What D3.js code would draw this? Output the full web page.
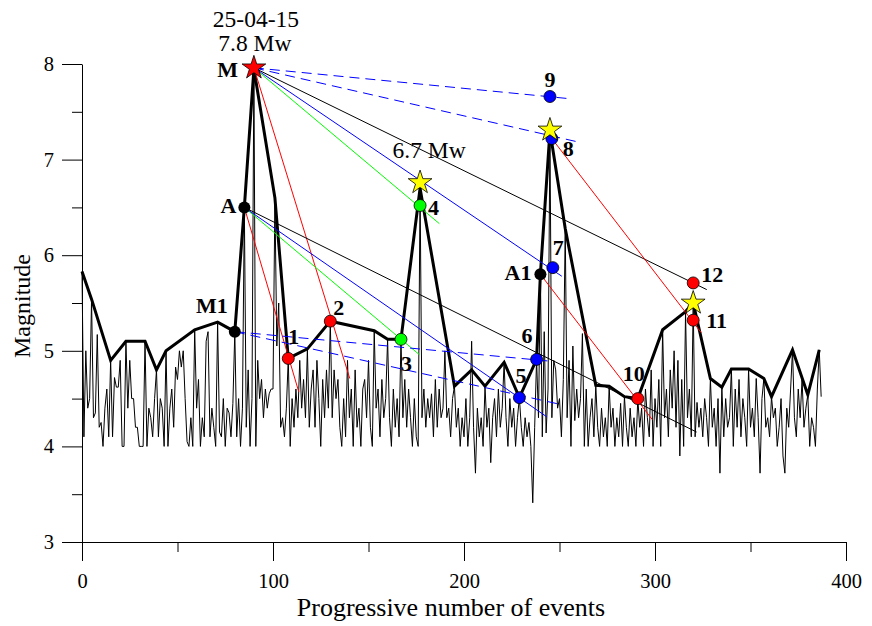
<!DOCTYPE html>
<html>
<head>
<meta charset="utf-8">
<script src="https://d3js.org/d3.v7.min.js"></script>
<style>
  body { margin: 0; background: #fff; }
  svg { display: block; font-family: "Liberation Serif", "Times New Roman", serif; }
</style>
</head>
<body>
<div id="chart"></div>
<script>
// magnitude of every event, index = progressive number
const magnitudes = [
  5.83, 4.1, 5.0, 4.4, 4.5, 5.54, 4.3, 4.35, 5.17, 4.2,
  4.25, 4.0, 4.4, 4.6, 4.1, 4.9, 4.1, 4.72, 4.62, 4.62,
  4.9, 4.0, 4.0, 5.1, 4.4, 4.9, 4.5, 4.5, 4.2, 4.2,
  4.0, 4.0, 4.0, 5.1, 4.0, 4.4, 4.3, 4.1, 4.5, 4.8,
  4.1, 4.5, 4.4, 4.0, 5.0, 4.0, 4.4, 4.6, 4.2, 4.83,
  4.7, 5.0, 4.83, 5.0, 4.5, 4.05, 4.0, 4.3, 4.0, 5.22,
  4.4, 4.7, 4.0, 4.3, 4.1, 5.1, 5.2, 4.1, 4.4, 4.2,
  4.0, 5.3, 4.15, 4.1, 4.5, 4.0, 4.4, 4.35, 4.1, 4.45,
  5.2, 4.1, 4.5, 4.0, 4.4, 6.5, 4.2, 4.8, 4.0, 4.5,
  7.95, 4.0, 4.9, 4.5, 4.7, 4.3, 4.6, 4.4, 4.55, 4.6,
  4.6, 6.6, 5.05, 5.5, 4.2, 4.3, 4.1, 4.4, 4.92, 4.0,
  4.5, 4.2, 4.6, 4.3, 4.9, 4.4, 4.7, 4.3, 5.02, 4.2,
  4.6, 4.8, 4.2, 4.9, 4.5, 4.0, 4.7, 4.3, 4.8, 4.4,
  5.31, 4.3, 4.8, 4.5, 4.7, 4.2, 4.0, 4.5, 4.1, 4.9,
  4.3, 4.6, 4.0, 4.8, 4.2, 4.4, 4.0, 4.6, 4.7, 4.3,
  4.9, 4.2, 4.0, 5.21, 4.4, 4.6, 4.1, 4.7, 4.3, 4.5,
  5.12, 4.3, 4.0, 4.6, 4.2, 4.5, 4.1, 5.12, 4.3, 4.7,
  4.2, 4.6, 4.3, 4.0, 4.5, 4.1, 4.0, 6.7, 4.3, 4.6,
  4.2, 4.5, 4.3, 4.55, 4.1, 4.7, 4.2, 4.6, 4.3, 4.4,
  5.0, 4.3, 4.4, 4.1, 4.5, 4.63, 4.2, 4.4, 4.0, 4.3,
  4.1, 4.5, 4.0, 4.3, 5.1, 4.2, 3.72, 4.4, 4.1, 4.3,
  4.0, 4.63, 4.2, 4.4, 3.83, 4.3, 4.5, 4.1, 4.6, 4.2,
  4.4, 4.88, 4.3, 4.0, 4.5, 4.2, 4.4, 4.0, 4.3, 4.51,
  4.2, 4.0, 4.3, 4.1, 4.25, 4.0, 3.41, 4.2, 4.91, 4.3,
  5.8, 4.1, 5.2, 4.14, 4.6, 7.3, 4.3, 4.9, 4.8, 4.4,
  4.5, 4.1, 4.7, 6.28, 4.3, 4.9, 4.0, 5.05, 4.27, 4.6,
  4.3, 4.5, 5.18, 4.0, 4.6, 4.0, 4.3, 4.5, 4.1, 4.64,
  4.2, 4.0, 4.4, 4.1, 4.3, 4.0, 4.63, 4.2, 4.4, 4.0,
  4.3, 4.1, 4.45, 4.0, 4.52, 4.2, 4.0, 4.4, 4.1, 4.3,
  4.0, 4.5, 4.2, 4.4, 4.0, 4.6, 4.3, 4.1, 4.8, 4.0,
  4.5, 4.2, 4.7, 4.0, 5.22, 4.3, 4.6, 4.1, 4.8, 4.4,
  5.0, 4.2, 4.9, 3.9, 4.7, 4.0, 5.41, 4.3, 4.6, 4.1,
  5.5, 4.1, 4.46, 4.2, 4.4, 4.1, 4.5, 4.3, 4.0, 4.71,
  4.2, 4.4, 4.0, 4.5, 3.72, 4.62, 4.1, 4.5, 4.2, 4.3,
  4.81, 4.0, 4.6, 4.2, 4.7, 4.1, 4.5, 4.3, 4.0, 4.81,
  4.2, 4.4, 4.1, 4.71, 4.3, 3.72, 4.5, 4.71, 4.2, 4.3,
  4.1, 4.52, 4.3, 4.4, 4.0, 4.2, 4.5, 3.9, 3.72, 4.4,
  4.2, 4.6, 5.01, 4.3, 4.1, 4.6, 4.3, 4.7, 4.2, 4.4,
  4.54, 4.0, 4.3, 4.2, 4.0, 4.6, 5.01, 4.52
];

// thick envelope through the maxima
const envEvents = [0, 5, 15, 23, 33, 39, 44, 59, 71, 80, 85, 90, 101, 108, 118, 130, 153, 160, 167, 177,
  195, 204, 211, 221, 229, 238, 240, 245, 253, 269, 276, 284, 291, 304, 316, 320, 329, 335, 340, 349,
  357, 361, 372, 380, 386];
const envMags = [5.83, 5.54, 4.9, 5.1, 5.1, 4.8, 5.0, 5.22, 5.3, 5.2, 6.5, 7.95, 6.6, 4.92, 5.02, 5.31, 5.21, 5.12, 5.12, 6.7,
  4.63, 4.8, 4.63, 4.88, 4.51, 4.91, 5.8, 7.3, 6.28, 4.64, 4.63, 4.52, 4.5, 5.22, 5.41, 5.5, 4.71, 4.62, 4.81, 4.81,
  4.71, 4.52, 5.01, 4.54, 5.01];

// marked events
const markNames = ["M", "M1", "A", "A1", "1", "2", "3", "4", "5", "6", "7", "8", "9", "10", "11", "12"];
const markEvents = [90, 80, 85, 240, 108, 130, 167, 177, 229, 238, 246.5, 246, 245, 291, 320, 320];
const markMags = [7.96, 5.2, 6.5, 5.8, 4.92, 5.31, 5.12, 6.52, 4.51, 4.91, 5.87, 7.22, 7.66, 4.5, 5.32, 5.71];
const markGroup = ["main", "fore", "fore", "fore", "red", "red", "green", "green", "blue", "blue", "blue", "blue", "blue", "red", "red", "red"];

// strong aftershocks (stars)
const starEvents = [177, 245, 320];
const starMags = [6.76, 7.31, 5.5];

// correlation lines: start mark -> end point
const linkFrom = ["M", "M", "M", "M", "M", "M", "A", "A", "A", "A", "M1", "M1", "A1", "8"];
const linkEndEvents = [253.8, 260.7, 327.1, 251.2, 187.1, 140.2, 113.5, 176.6, 243.3, 321.8, 245.9, 250.3, 298.6, 324.2];
const linkEndMags = [7.64, 7.18, 5.64, 5.78, 6.33, 4.71, 4.57, 4.96, 4.31, 4.15, 4.89, 4.44, 4.28, 5.19];
const linkGroup = ["dash", "dash", "black", "blue", "green", "red", "red", "green", "blue", "black", "dash", "dash", "red", "red"];

const xTicks = [0, 100, 200, 300, 400];
const xMinor = [50, 150, 250, 350];
const yTicks = [3, 4, 5, 6, 7, 8];
const yMinor = [3.5, 4.5, 5.5, 6.5, 7.5];

const colors = { main: "#ff0000", fore: "#000000", red: "#ff0000", green: "#00ff00", blue: "#0000ff", dash: "#0000ff", black: "#000000" };

// label offsets [dx, dy, anchor]
const labelPos = {
  M: [-16, 9, "end"], M1: [-7, -19, "end"], A: [-8, 6, "end"], A1: [-9, 6, "end"],
  "1": [0, -14, "start"], "2": [3, -6, "start"], "3": [0, 32, "start"], "4": [8, 10, "start"],
  "5": [-4, -15, "start"], "6": [-15, -16, "start"], "7": [0, -13, "start"], "8": [11, 17, "start"],
  "9": [0, -10, "middle"], "10": [-15, -18, "start"], "11": [13, 8, "start"], "12": [8, -1, "start"]
};

const W = 872, H = 626;
const serif = "Liberation Serif";
const x = d3.scaleLinear().domain([0, 400]).range([82, 846]);
const y = d3.scaleLinear().domain([3, 8]).range([542, 64]);

const svg = d3.select("#chart").append("svg").attr("width", W).attr("height", H);

// axes
svg.append("g").attr("transform", `translate(0,${y(3)})`)
  .call(d3.axisBottom(x).tickValues(xTicks).tickFormat(d3.format("d")).tickSize(19).tickPadding(12).tickSizeOuter(0));
svg.append("g").attr("transform", `translate(0,${y(3)})`)
  .call(d3.axisBottom(x).tickValues(xMinor).tickSize(10).tickFormat(""))
  .call(g => g.select(".domain").remove());
svg.append("g").attr("transform", `translate(${x(0)},0)`)
  .call(d3.axisLeft(y).tickValues(yTicks).tickFormat(d3.format("d")).tickSize(20).tickPadding(8).tickSizeOuter(0));
svg.append("g").attr("transform", `translate(${x(0)},0)`)
  .call(d3.axisLeft(y).tickValues(yMinor).tickSize(10).tickFormat(""))
  .call(g => g.select(".domain").remove());
svg.selectAll("g").attr("font-family", serif);
svg.selectAll(".tick text").attr("font-family", serif).attr("font-size", 20.5).attr("fill", "#000");
svg.selectAll(".domain, .tick line").attr("stroke", "#000");

svg.append("text").attr("x", 451).attr("y", 616).attr("text-anchor", "middle")
  .attr("font-size", 26).text("Progressive number of events");
svg.append("text").attr("transform", "translate(30,306) rotate(-90)").attr("text-anchor", "middle")
  .attr("font-size", 24).text("Magnitude");

// thin series
const line = d3.line().x(d => x(d[0])).y(d => y(d[1]));
svg.append("path").datum(magnitudes.map((m, i) => [i, m]))
  .attr("d", line).attr("fill", "none").attr("stroke", "#000").attr("stroke-width", 1);

// envelope
svg.append("path").datum(envEvents.map((e, i) => [e, envMags[i]]))
  .attr("d", line).attr("fill", "none").attr("stroke", "#000").attr("stroke-width", 3);

const markAt = name => markNames.indexOf(name);

// correlation lines
linkFrom.forEach((f, i) => {
  const k = markAt(f);
  svg.append("line")
    .attr("x1", x(markEvents[k])).attr("y1", y(markMags[k]))
    .attr("x2", x(linkEndEvents[i])).attr("y2", y(linkEndMags[i]))
    .attr("stroke", colors[linkGroup[i]]).attr("stroke-width", 1)
    .attr("stroke-dasharray", linkGroup[i] === "dash" ? "10,6" : null);
});

// dots
markNames.forEach((n, i) => {
  if (n === "M") return;
  svg.append("circle").attr("cx", x(markEvents[i])).attr("cy", y(markMags[i])).attr("r", 6)
    .attr("fill", colors[markGroup[i]])
    .attr("stroke", "#000").attr("stroke-width", markGroup[i] === "fore" ? 0 : 0.8);
});

// stars
const star = d3.symbol().type(d3.symbolStar).size(175);
starEvents.forEach((e, i) => {
  svg.append("path").attr("d", star).attr("transform", `translate(${x(e)},${y(starMags[i])})`)
    .attr("fill", "#ffff00").attr("stroke", "#000").attr("stroke-width", 0.8);
});
const mi = markAt("M");
svg.append("path").attr("d", star).attr("transform", `translate(${x(markEvents[mi])},${y(markMags[mi])})`)
  .attr("fill", "#ff0000").attr("stroke", "#000").attr("stroke-width", 0.8);

// labels
markNames.forEach((n, i) => {
  const p = labelPos[n];
  svg.append("text").attr("x", x(markEvents[i]) + p[0]).attr("y", y(markMags[i]) + p[1])
    .attr("text-anchor", p[2]).attr("font-weight", "bold").attr("font-size", 22).text(n);
});

// annotations
svg.append("text").attr("x", x(markEvents[mi]) + 2).attr("y", y(markMags[mi]) - 41)
  .attr("text-anchor", "middle").attr("font-size", 23.5).text("25-04-15");
svg.append("text").attr("x", x(markEvents[mi]) + 1).attr("y", y(markMags[mi]) - 17)
  .attr("text-anchor", "middle").attr("font-size", 23.5).text("7.8 Mw");
svg.append("text").attr("x", x(starEvents[0]) + 9).attr("y", y(starMags[0]) - 25)
  .attr("text-anchor", "middle").attr("font-size", 23.5).text("6.7 Mw");
</script>
</body>
</html>
